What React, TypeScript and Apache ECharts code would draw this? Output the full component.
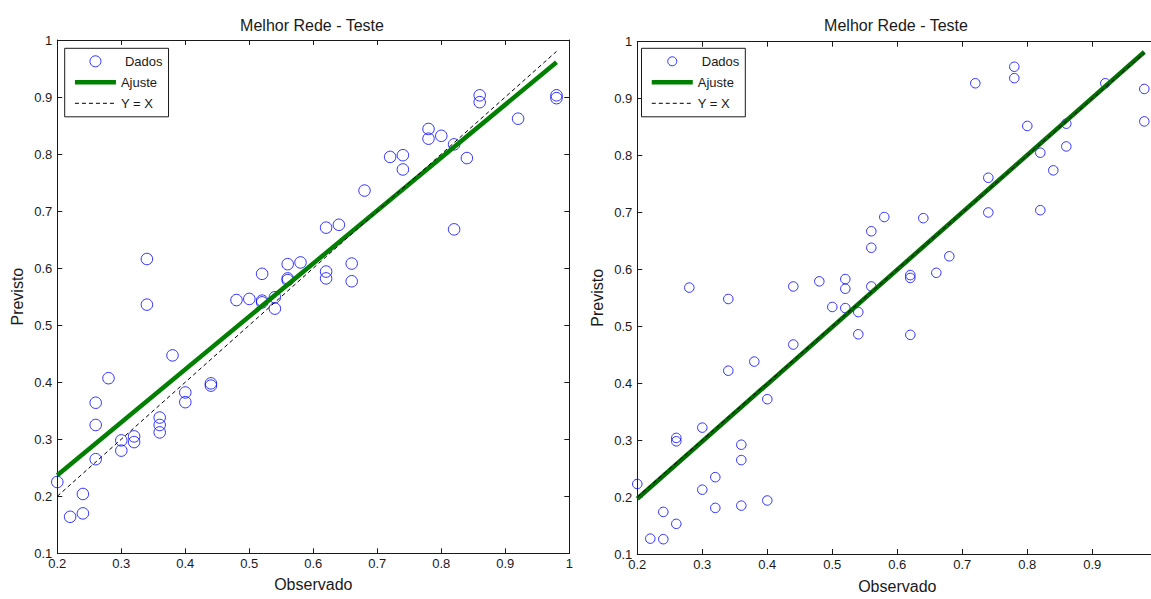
import React, { useEffect, useRef } from "react";
import * as echarts from "echarts";

// ---- Data ----
const titleText = "Melhor Rede - Teste";
const xName = "Observado";
const yName = "Previsto";
const legendNames = ["Dados", "Ajuste", "Y = X"];

const leftObs = [0.2, 0.22, 0.24, 0.24, 0.26, 0.26, 0.26, 0.28, 0.3, 0.3, 0.32, 0.32, 0.34, 0.34, 0.36, 0.36, 0.36, 0.38, 0.4, 0.4, 0.44, 0.44, 0.48, 0.5, 0.52, 0.52, 0.52, 0.54, 0.54, 0.56, 0.56, 0.56, 0.58, 0.62, 0.62, 0.62, 0.64, 0.66, 0.66, 0.68, 0.72, 0.74, 0.74, 0.78, 0.78, 0.8, 0.82, 0.82, 0.84, 0.86, 0.86, 0.92, 0.98, 0.98];
const leftPred = [0.225, 0.164, 0.204, 0.17, 0.364, 0.325, 0.265, 0.407, 0.298, 0.28, 0.305, 0.295, 0.616, 0.536, 0.338, 0.325, 0.312, 0.447, 0.382, 0.365, 0.398, 0.394, 0.544, 0.546, 0.59, 0.543, 0.54, 0.549, 0.529, 0.607, 0.582, 0.579, 0.61, 0.671, 0.594, 0.582, 0.676, 0.608, 0.577, 0.736, 0.795, 0.798, 0.773, 0.844, 0.827, 0.832, 0.817, 0.668, 0.793, 0.903, 0.891, 0.862, 0.903, 0.898];
const leftFitX = [0.2, 0.98];
const leftFitY = [0.237, 0.961];

const rightObs = [0.2, 0.22, 0.24, 0.24, 0.26, 0.26, 0.26, 0.28, 0.3, 0.3, 0.32, 0.32, 0.34, 0.34, 0.36, 0.36, 0.36, 0.38, 0.4, 0.4, 0.44, 0.44, 0.48, 0.5, 0.52, 0.52, 0.52, 0.54, 0.54, 0.56, 0.56, 0.56, 0.58, 0.62, 0.62, 0.62, 0.64, 0.66, 0.68, 0.72, 0.74, 0.74, 0.78, 0.78, 0.8, 0.82, 0.82, 0.84, 0.86, 0.86, 0.92, 0.98, 0.98];
const rightPred = [0.223, 0.127, 0.126, 0.174, 0.153, 0.304, 0.298, 0.568, 0.322, 0.213, 0.235, 0.181, 0.548, 0.422, 0.292, 0.265, 0.185, 0.438, 0.372, 0.194, 0.57, 0.468, 0.579, 0.534, 0.583, 0.566, 0.532, 0.525, 0.486, 0.667, 0.638, 0.57, 0.692, 0.59, 0.585, 0.485, 0.69, 0.594, 0.623, 0.927, 0.761, 0.7, 0.956, 0.936, 0.852, 0.805, 0.704, 0.774, 0.856, 0.816, 0.927, 0.917, 0.86];
const rightFitX = [0.2, 0.98];
const rightFitY = [0.197, 0.982];

const identityX = [0.2, 0.98];

const xMin = 0.2;
const xMax = 1;
const yMin = 0.1;
const yMax = 1;
const step = 0.1;

const FONT = "'Liberation Sans', Arial, Helvetica, sans-serif";
const INK = "#1a1a1a";
const CHART_W = 1170; // wider than the page: the right plot is cut off at the page edge
const PAGE_W = 1151;
const PAGE_H = 599;

function zip(xs: number[], ys: number[]) {
  return xs.map((x, i) => [x, ys[i]]);
}

export default function App() {
  const ref = useRef<HTMLDivElement>(null);

  useEffect(() => {
    document.body.style.margin = "0";
    const chart = echarts.init(ref.current!, undefined, { renderer: "svg" });

    const grids = [
      { left: 57.3, top: 40, width: 512, height: 513.3 },
      { left: 637.3, top: 41.7, width: 520, height: 519.3 },
    ];

    const lineStyle = { color: INK, width: 1 };
    const tick = { show: true, inside: true, length: 5, lineStyle };

    const xAxes: any[] = [];
    const yAxes: any[] = [];
    grids.forEach((_, gi) => {
      xAxes.push({
        type: "value",
        gridIndex: gi,
        position: "bottom",
        min: xMin,
        max: xMax,
        interval: step,
        axisLine: { show: true, onZero: false, lineStyle },
        axisTick: tick,
        splitLine: { show: false },
        axisLabel: { fontSize: 13, color: INK, margin: 4, fontFamily: FONT, showMaxLabel: gi === 0 },
        name: xName,
        nameLocation: "middle",
        nameGap: gi === 0 ? 23 : 24,
        nameTextStyle: { fontSize: 16, color: INK, fontFamily: FONT },
      });
      xAxes.push({
        type: "value",
        gridIndex: gi,
        position: "top",
        min: xMin,
        max: xMax,
        interval: step,
        axisLine: { show: true, onZero: false, lineStyle },
        axisTick: tick,
        splitLine: { show: false },
        axisLabel: { show: false },
      });
      yAxes.push({
        type: "value",
        gridIndex: gi,
        position: "left",
        min: yMin,
        max: yMax,
        interval: step,
        axisLine: { show: true, onZero: false, lineStyle },
        axisTick: tick,
        splitLine: { show: false },
        axisLabel: { fontSize: 13, color: INK, margin: 5, fontFamily: FONT },
        name: yName,
        nameLocation: "middle",
        nameGap: 32,
        nameTextStyle: { fontSize: 16, color: INK, fontFamily: FONT },
      });
      yAxes.push({
        type: "value",
        gridIndex: gi,
        position: "right",
        min: yMin,
        max: yMax,
        interval: step,
        axisLine: { show: true, onZero: false, lineStyle },
        axisTick: tick,
        splitLine: { show: false },
        axisLabel: { show: false },
      });
    });

    const makeSeries = (gi: number, obs: number[], pred: number[], fx: number[], fy: number[], size: number, green: string) => [
      {
        name: legendNames[0],
        type: "scatter",
        xAxisIndex: gi * 2,
        yAxisIndex: gi * 2,
        symbol: "circle",
        symbolSize: size,
        itemStyle: { color: "rgba(0,0,0,0)", borderColor: "#0000ff", borderWidth: 1 },
        data: zip(obs, pred),
      },
      {
        name: legendNames[1],
        type: "line",
        xAxisIndex: gi * 2,
        yAxisIndex: gi * 2,
        symbol: "none",
        lineStyle: { color: green, width: 4.5 },
        itemStyle: { color: green },
        data: zip(fx, fy),
      },
      {
        name: legendNames[2],
        type: "line",
        xAxisIndex: gi * 2,
        yAxisIndex: gi * 2,
        symbol: "none",
        lineStyle: { color: "#000000", width: 1, type: [4, 3] },
        itemStyle: { color: "#000000" },
        data: zip(identityX, identityX),
      },
    ];

    const hiddenSymbol = { color: "rgba(0,0,0,0)", borderColor: "rgba(0,0,0,0)", borderWidth: 0 };

    const makeLegend = (left: number, iconH: number) => ({
      orient: "vertical",
      left,
      top: 48.3,
      selectedMode: false,
      backgroundColor: "#ffffff",
      borderColor: INK,
      borderWidth: 1,
      padding: [6.5, 6, 7, 8],
      itemWidth: 41,
      itemHeight: iconH,
      itemGap: 8,
      itemStyle: { borderWidth: 1 },
      lineStyle: { width: "inherit" },
      textStyle: { fontSize: 13, color: INK, fontFamily: FONT, lineHeight: 11 },
      data: [
        { name: legendNames[0], textStyle: { padding: [0, 0, 0, 4] } },
        { name: legendNames[1], itemStyle: hiddenSymbol },
        { name: legendNames[2], itemStyle: hiddenSymbol },
      ],
    });

    chart.setOption({
      animation: false,
      backgroundColor: "#ffffff",
      textStyle: { fontFamily: FONT },
      title: grids.map((g, gi) => ({
        text: titleText,
        left: gi === 0 ? 312 : 896,
        top: 17,
        padding: 0,
        textAlign: "center",
        textStyle: { fontSize: 16, fontWeight: "normal", color: INK, fontFamily: FONT, lineHeight: 16 },
      })),
      legend: [makeLegend(64.7, 11), makeLegend(641.5, 9)],
      grid: grids,
      xAxis: xAxes,
      yAxis: yAxes,
      series: [
        ...makeSeries(0, leftObs, leftPred, leftFitX, leftFitY, 11.5, "#007f00"),
        ...makeSeries(1, rightObs, rightPred, rightFitX, rightFitY, 9.5, "#006f00"),
      ],
    });

    return () => chart.dispose();
  }, []);

  return (
    <div
      style={{ position: "fixed", left: 0, top: 0, width: PAGE_W, height: PAGE_H, overflow: "hidden", background: "#fff" }}
    >
      <div ref={ref} style={{ width: CHART_W, height: PAGE_H }} />
    </div>
  );
}
